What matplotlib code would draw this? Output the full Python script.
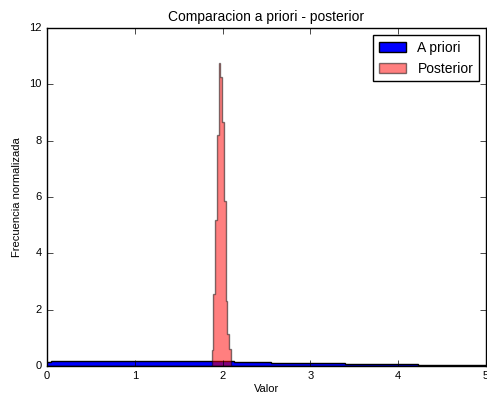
import numpy as np
import matplotlib
matplotlib.use("Agg")
import matplotlib.pyplot as plt

# Histogram data (normalised frequencies)
prior_edges = -0.378 + 0.419 * np.arange(14)
prior_heights = [0.14, 0.17, 0.18, 0.19, 0.19, 0.17, 0.14,
                 0.12, 0.10, 0.08, 0.06, 0.04, 0.03]

post_edges = 1.876 + 0.02 * np.arange(12)
post_heights = [0.55, 2.55, 5.2, 8.2, 10.75, 10.27, 8.66,
                5.85, 2.3, 1.13, 0.6]

plt.style.use("classic")
plt.rcParams["font.family"] = ["Liberation Sans", "DejaVu Sans"]

fig = plt.figure(figsize=(4.87, 3.96), dpi=100)
ax = fig.add_axes([0.0965, 0.076, 0.901, 0.853])

prior_centers = (prior_edges[:-1] + prior_edges[1:]) / 2
post_centers = (post_edges[:-1] + post_edges[1:]) / 2
ax.hist(prior_centers, bins=prior_edges, weights=prior_heights,
        histtype="stepfilled", color="blue", edgecolor="black",
        label="A priori")
ax.hist(post_centers, bins=post_edges, weights=post_heights,
        histtype="stepfilled", color="red", alpha=0.5, edgecolor="black",
        label="Posterior")

ax.set_xlim(0, 5)
ax.set_ylim(0, 12)
ax.set_title("Comparacion a priori - posterior", fontsize=10)
ax.set_xlabel("Valor", fontsize=8, labelpad=2)
ax.set_ylabel("Frecuencia normalizada", fontsize=8)
ax.tick_params(labelsize=8)
ax.legend(loc="upper right", fontsize=10)

fig.savefig("out.png", dpi=100)
